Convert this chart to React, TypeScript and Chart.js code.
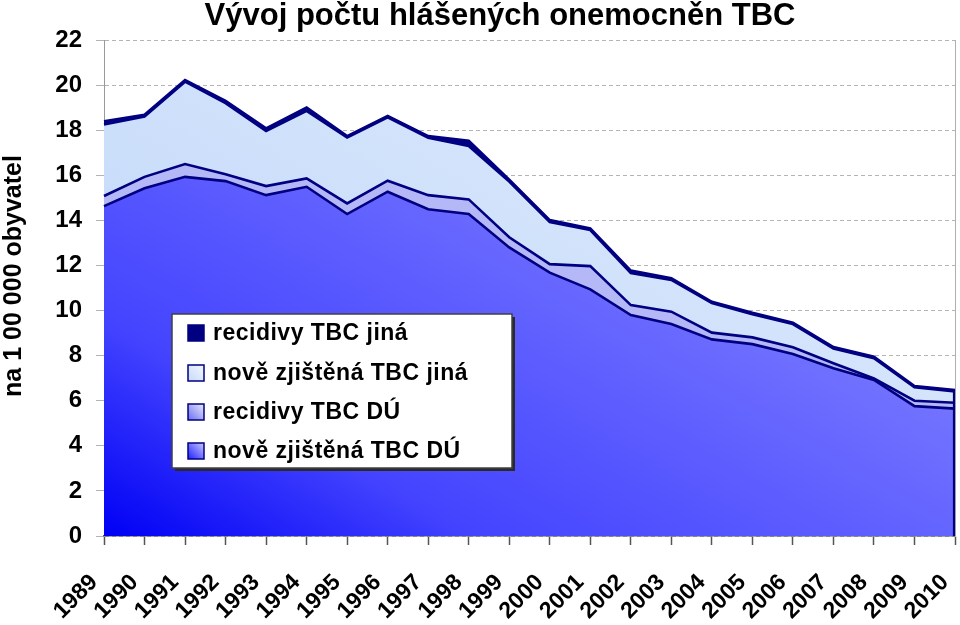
import React, { useEffect, useRef } from "react";
import { Chart, registerables } from "chart.js";

Chart.register(...registerables);

const titleText = "Vývoj počtu hlášených onemocněn TBC";
const yAxisTitle = "na 1 00 000 obyvatel";

const years = [
  "1989", "1990", "1991", "1992", "1993", "1994", "1995", "1996", "1997", "1998", "1999",
  "2000", "2001", "2002", "2003", "2004", "2005", "2006", "2007", "2008", "2009", "2010",
];

// bottom series
const noveDU = [
  14.63, 15.42, 15.93, 15.74, 15.12, 15.49, 14.28, 15.27, 14.49, 14.28, 12.8,
  11.68, 10.94, 9.8, 9.4, 8.72, 8.51, 8.07, 7.44, 6.92, 5.76, 5.65,
];
const recidivyDU = [
  0.45, 0.51, 0.57, 0.31, 0.4, 0.37, 0.47, 0.49, 0.63, 0.65, 0.45,
  0.38, 1.03, 0.44, 0.55, 0.3, 0.3, 0.3, 0.22, 0.07, 0.24, 0.26,
];
const noveJina = [
  3.17, 2.67, 3.65, 3.15, 2.44, 3.0, 2.92, 2.81, 2.54, 2.37, 2.47,
  1.86, 1.6, 1.42, 1.41, 1.31, 1.03, 1.03, 0.66, 0.9, 0.6, 0.5,
];
const recidivyJina = [
  0.15, 0.08, 0.07, 0.1, 0.12, 0.15, 0.07, 0.06, 0.08, 0.23, 0.08,
  0.09, 0.07, 0.11, 0.07, 0.06, 0.06, 0.06, 0.06, 0.06, 0.05, 0.06,
];

const seriesLabels = [
  "nově zjištěná TBC DÚ",
  "recidivy TBC DÚ",
  "nově zjištěná TBC jiná",
  "recidivy TBC jiná",
];

const yMin = 0;
const yMax = 22;
const yStep = 2;

const FONT = '"Liberation Sans", Arial, sans-serif';
const NAVY = "#000080";

function diagGradient(ctx: CanvasRenderingContext2D, area: any, stops: [number, string][]) {
  const W = area.right - area.left;
  const H = area.bottom - area.top;
  const gx = 0.5 / W;
  const gy = 0.5 / H;
  const g2 = gx * gx + gy * gy;
  const vx = gx / g2;
  const vy = gy / g2;
  const grad = ctx.createLinearGradient(area.left, area.bottom, area.left + vx, area.bottom - vy);
  stops.forEach(([o, c]) => grad.addColorStop(o, c));
  return grad;
}

const bottomStops: [number, string][] = [
  [0, "#0000f5"],
  [0.22, "#4444ff"],
  [0.6, "#7070ff"],
  [1, "#9c9cff"],
];
const lightStops: [number, string][] = [
  [0, "#bcd4f8"],
  [1, "#e2edfd"],
];

const decorPlugin = {
  id: "decor",
  afterDatasetsDraw(chart: any) {
    // closing vertical edge of the stacked areas on the right
    const { ctx, chartArea, scales } = chart;
    const last = years.length - 1;
    const total = noveDU[last] + recidivyDU[last] + noveJina[last] + recidivyJina[last];
    const x = scales.x.getPixelForValue(last);
    ctx.save();
    ctx.strokeStyle = NAVY;
    ctx.lineWidth = 2.2;
    ctx.beginPath();
    ctx.moveTo(x - 1, chartArea.bottom);
    ctx.lineTo(x - 1, scales.y.getPixelForValue(total));
    ctx.stroke();
    ctx.restore();
  },
  afterDraw(chart: any) {
    const { ctx, chartArea } = chart;
    ctx.save();
    // right border of plot
    ctx.strokeStyle = "#b0b0b0";
    ctx.lineWidth = 1;
    ctx.beginPath();
    ctx.moveTo(chartArea.right - 0.5, chartArea.top);
    ctx.lineTo(chartArea.right - 0.5, chartArea.top + 1);
    ctx.stroke();

    // title
    ctx.fillStyle = "#000";
    ctx.font = `bold 31px ${FONT}`;
    ctx.textAlign = "center";
    ctx.textBaseline = "alphabetic";
    ctx.fillText(titleText, 500, 25);

    // y axis title
    ctx.save();
    ctx.translate(14, 276);
    ctx.rotate(-Math.PI / 2);
    ctx.font = `bold 25px ${FONT}`;
    ctx.textAlign = "center";
    ctx.textBaseline = "middle";
    ctx.fillText(yAxisTitle, 0, 0);
    ctx.restore();

    // legend
    const lx = 172, ly = 314, lw = 340, lh = 154;
    ctx.fillStyle = "#2a2a2a";
    ctx.fillRect(lx + 3, ly + 3, lw, lh);
    ctx.fillStyle = "#ffffff";
    ctx.fillRect(lx, ly, lw, lh);
    ctx.strokeStyle = "#404040";
    ctx.lineWidth = 1.5;
    ctx.strokeRect(lx, ly, lw, lh);

    const ds = chart.data.datasets;
    const order = [3, 2, 1, 0];
    const rowY = [333, 373, 412, 451];
    order.forEach((di, i) => {
      const cy = rowY[i];
      const mx = 188, my = cy - 8, ms = 16;
      let fill: any;
      if (di === 3) fill = NAVY;
      else {
        const g = ctx.createLinearGradient(mx, my + ms, mx + ms, my);
        if (di === 2) {
          g.addColorStop(0, "#c6dafa");
          g.addColorStop(1, "#f2f7ff");
        } else if (di === 1) {
          g.addColorStop(0, "#6a6ef0");
          g.addColorStop(1, "#e8e8ff");
        } else {
          g.addColorStop(0, "#2020ff");
          g.addColorStop(1, "#c8c8ff");
        }
        fill = g;
      }
      ctx.fillStyle = fill;
      ctx.fillRect(mx, my, ms, ms);
      ctx.strokeStyle = NAVY;
      ctx.lineWidth = 1.5;
      ctx.strokeRect(mx, my, ms, ms);

      ctx.fillStyle = "#000";
      ctx.font = `bold 23px ${FONT}`;
      (ctx as any).letterSpacing = "0.5px";
      ctx.textAlign = "left";
      ctx.textBaseline = "middle";
      ctx.fillText(ds[di].label, 213, cy + 1);
      (ctx as any).letterSpacing = "0px";
    });
    ctx.restore();
  },
};

export default function App() {
  const ref = useRef<HTMLCanvasElement | null>(null);

  useEffect(() => {
    const canvas = ref.current;
    if (!canvas) return;
    const ctx = canvas.getContext("2d")!;

    const mk = (label: string, data: number[], bg: any, fill: any) => ({
      label,
      data,
      backgroundColor: bg,
      borderColor: NAVY,
      borderWidth: 2.6,
      pointRadius: 0,
      pointHoverRadius: 0,
      tension: 0,
      fill,
    });

    const chart = new Chart(ctx, {
      type: "line",
      data: {
        labels: years,
        datasets: [
          mk(seriesLabels[0], noveDU, (c: any) => {
            const a = c.chart.chartArea;
            if (!a) return "#4040ff";
            return diagGradient(c.chart.ctx, a, bottomStops);
          }, "origin"),
          mk(seriesLabels[1], recidivyDU, "#b4b8f7", "-1"),
          mk(seriesLabels[2], noveJina, (c: any) => {
            const a = c.chart.chartArea;
            if (!a) return "#cfe0fb";
            return diagGradient(c.chart.ctx, a, lightStops);
          }, "-1"),
          mk(seriesLabels[3], recidivyJina, NAVY, "-1"),
        ],
      },
      options: {
        responsive: false,
        animation: false,
        events: [],
        layout: { padding: { top: 40, right: 5, left: 0, bottom: 0 } },
        plugins: {
          legend: { display: false },
          title: { display: false },
          tooltip: { enabled: false },
        },
        scales: {
          x: {
            type: "category",
            offset: false,
            grid: {
              display: true,
              drawOnChartArea: false,
              drawTicks: true,
              tickLength: 9,
              tickColor: "#555555",
              tickWidth: 1.5,
            },
            border: { display: true, color: "#555555", width: 1.5 },
            ticks: {
              autoSkip: false,
              maxRotation: 45,
              minRotation: 45,
              padding: 24,
              labelOffset: -10,
              color: "#000",
              font: { family: FONT, size: 23, weight: "bold" },
            },
            afterFit(scale: any) {
              scale.height = 89;
              scale.paddingLeft = 0;
              scale.paddingRight = 0;
            },
          },
          y: {
            stacked: true,
            min: yMin,
            max: yMax,
            grid: {
              color: "#b4b4b4",
              lineWidth: 1,
              drawTicks: true,
              tickLength: 8,
              tickColor: "#b4b4b4",
            },
            border: { display: true, color: "#9a9a9a", width: 1, dash: [4, 3] },
            ticks: {
              stepSize: yStep,
              padding: 14,
              color: "#000",
              font: { family: FONT, size: 24, weight: "bold" },
            },
            afterFit(scale: any) {
              scale.width = 104;
              scale.paddingTop = 0;
              scale.paddingBottom = 0;
            },
          },
          y2: {
            position: "right",
            min: yMin,
            max: yMax,
            display: true,
            grid: { drawOnChartArea: false, drawTicks: false },
            border: { display: true, color: "#b0b0b0", width: 1 },
            ticks: { display: false },
            afterFit(scale: any) {
              scale.width = 0;
              scale.paddingTop = 0;
              scale.paddingBottom = 0;
            },
          },
        },
      },
      plugins: [decorPlugin],
    });

    return () => chart.destroy();
  }, []);

  return (
    <div style={{ position: "fixed", left: 0, top: 0, width: 960, height: 625, background: "#fff" }}>
      <canvas ref={ref} width={960} height={625} style={{ display: "block" }} />
    </div>
  );
}
